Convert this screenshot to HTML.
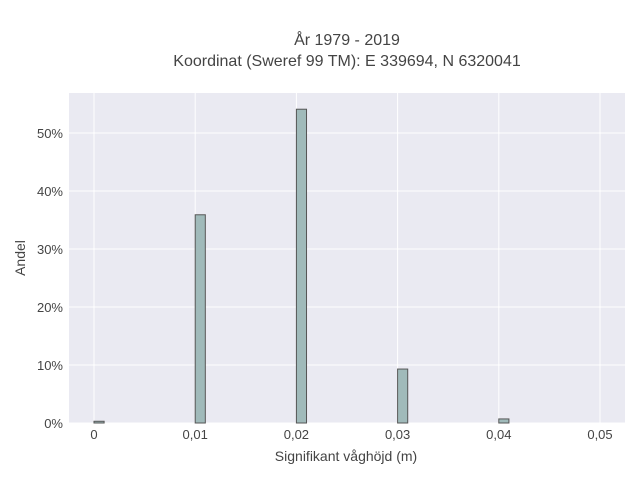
<!DOCTYPE html>
<html><head><meta charset="utf-8"><style>
body{margin:0;background:#fff;font-family:"Liberation Sans",sans-serif;}
text{font-family:"Liberation Sans",sans-serif;fill:#444;}
</style></head><body>
<svg width="640" height="480">
<rect x="0" y="0" width="640" height="480" fill="#fff"/>
<rect x="69" y="93" width="556" height="330" fill="#eaeaf2"/>
<g id="grid"></g>
<g id="bars"></g>
<g id="ticks"></g>
<text x="347" y="45" text-anchor="middle" font-size="16">År 1979 - 2019</text>
<text x="347" y="66" text-anchor="middle" font-size="16">Koordinat (Sweref 99 TM): E 339694, N 6320041</text>
<text x="346" y="461" text-anchor="middle" font-size="14">Signifikant våghöjd (m)</text>
<text x="25" y="258" text-anchor="middle" font-size="14" transform="rotate(-90 25 258)">Andel</text>
</svg>
<script>
const binStarts=[0,0.01,0.02,0.03,0.04];
const shares=[0.3,35.9,54.1,9.3,0.7];
const xTicks=[0,0.01,0.02,0.03,0.04,0.05];
const xTickLabels=["0","0,01","0,02","0,03","0,04","0,05"];
const yTicks=[0,10,20,30,40,50];
const yTickLabels=["0%","10%","20%","30%","40%","50%"];
const binWidth=0.001;
const ns="http://www.w3.org/2000/svg";
const X=v=>94+v*10120;
const Y=v=>423-v*5.8;
function mk(tag,attrs,parent){const e=document.createElementNS(ns,tag);for(const k in attrs)e.setAttribute(k,attrs[k]);document.getElementById(parent).appendChild(e);return e;}
const g="grid",t="ticks";
xTicks.forEach((v,i)=>{
 const l=mk("line",{x1:X(v),x2:X(v),y1:93,y2:423,stroke:"#fff","stroke-width":1},g);
 
 
 const tx=mk("text",{x:X(v),y:439,"text-anchor":"middle","font-size":13},t);
 tx.textContent=xTickLabels[i];
 
 
});
yTicks.forEach((v,i)=>{
 const l=mk("line",{x1:69,x2:625,y1:Y(v),y2:Y(v),stroke:"#fff","stroke-width":1},g);
 
 
 const tx=mk("text",{x:63,y:Y(v)+5,"text-anchor":"end","font-size":13},t);
 tx.textContent=yTickLabels[i];
 
 
});
binStarts.forEach((v,i)=>{
 const x0=X(v),x1=X(v+binWidth);
 const r=mk("rect",{x:x0,y:Y(shares[i]),width:x1-x0,height:Y(0)-Y(shares[i]),fill:"#a0baba",stroke:"#555","stroke-width":1},"bars");
 
 
});
</script>
</body></html>
